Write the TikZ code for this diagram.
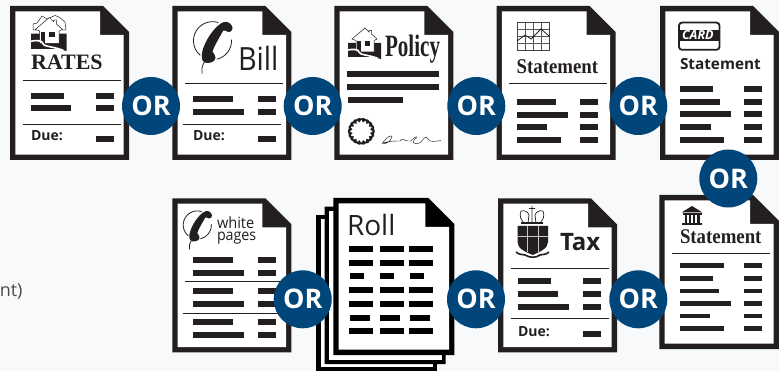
\documentclass[tikz,border=0pt]{standalone}
\usepackage{graphicx}
\usepackage{fontspec}
\setmainfont{Open Sans}
\newfontfamily\srf{Liberation Serif}
\definecolor{ink}{HTML}{231F20}
\definecolor{paper}{HTML}{F7F9FB}
\definecolor{orblue}{HTML}{00467A}
\tikzset{
  lbl/.style={inner sep=0pt,outer sep=0pt,anchor=base west,text=ink},
  orc/.style={circle,fill=orblue,minimum size=58pt,inner sep=0pt,text=white,font=\bfseries\fontsize{27}{27}\selectfont}
}
\newcommand\ortext{\raisebox{-1pt}{OR}}
\newcommand\docsheet[5][ink]{%
  \begin{scope}[shift={(#2,#3)}]
    \fill[#1] (0,0) -- (#4-26,0) -- (#4,26) -- (#4,#5) -- (0,#5) -- cycle;
    \fill[white] (5.3,5.3) -- (#4-29,5.3) -- (#4-29,29) -- (#4-5.3,29) -- (#4-5.3,#5-5.3) -- (5.3,#5-5.3) -- cycle;
  \end{scope}}
\newcommand\bk[4]{\fill[ink] (#1,#2) rectangle (#3,#4);}
\newcommand\kk[4]{\fill[black] (#1,#2) rectangle (#3,#4);}
\newcommand\rl[3]{\draw[ink,line width=0.8pt] (#1,#3) -- (#2,#3);}
\newcommand\phoneicon[3]{%
  \begin{scope}[shift={(#1,#2)},scale=#3]
    \draw[ink,line width=0.8pt] plot[domain=-230:-72,samples=40] ({19*cos(\x)},{19*sin(\x)});
    \draw[ink,line width=0.8pt] plot[domain=-3:77,samples=24] ({19*cos(\x)},{19*sin(\x)});
    \fill[ink] (8,-17) .. controls (12,-20) and (18,-20) .. (20,-13)
      .. controls (20.5,-10) and (17,-8) .. (15,-9) .. controls (11,-11) and (11,-11) .. (9,-7)
      .. controls (5,0) and (1,7) .. (0,11) .. controls (1,13) and (3,14) .. (3,17)
      .. controls (3,21) and (-3,23) .. (-7,22) .. controls (-12,21) and (-11,14) .. (-10,10)
      .. controls (-7,-1) and (1,-12) .. (8,-17) -- cycle;
    \draw[ink,line width=0.8pt] (-8,21) .. controls (-11,26) and (-11,29) .. (-10.5,33);
  \end{scope}}
\newcommand\houseicon[3]{%
  \begin{scope}[shift={(#1,#2)},scale=#3]
    \fill[ink] (0,15) -- (33,15) -- (33,31) -- (24,29) -- (0,29) -- cycle;
    \filldraw[fill=white,draw=ink,line width=0.5pt] (17,0) -- (4,11) -- (8,12.5) -- (8,24) -- (26,24) -- (26,12.5) -- (29,11) -- (23.5,6) -- (23.5,2.5) -- (21,2.5) -- (21,4) -- cycle;
    \fill[ink] (9,13) rectangle (13,24);
    \fill[ink] (17,13) rectangle (22,18);
    \draw[white,line width=1.6pt] (0,22) .. controls (4,21) and (11,21) .. (11,24) .. controls (11,27) and (22,27) .. (30,30.5);
  \end{scope}}
\begin{document}
\begin{tikzpicture}[x=1pt,y=-1pt]
\useasboundingbox (0,0) rectangle (779,371);
\fill[paper] (0,0) rectangle (779,371);
\node[lbl,anchor=base east,text=black!70,font=\fontsize{18}{18}\selectfont] (cut) at (22.5,297) {nt)};

% --- RATES
\docsheet{10}{6}{119}{154}
\draw[ink,line width=0.5pt,fill=white] (33,30) -- (33,24) -- (37,23) -- (42,16) -- (47,19) -- (55,15.5) -- (59,17) -- (65,22) -- (66,30) -- cycle;
\houseicon{31}{17.5}{1.08}
\node[lbl] (rates) at (31,70) {\srf\bfseries\fontsize{22}{22}\selectfont RATES};
\rl{23}{121}{80.3}
\bk{31}{93}{64}{99}\bk{31}{105}{71}{111}\bk{96}{93}{114}{99}\bk{96}{105}{114}{111}
\rl{23}{121}{124.3}
\node[lbl] (due1) at (31,141) {\bfseries\fontsize{14}{14}\selectfont Due:};
\bk{96}{136}{114}{142}

% --- Bill
\docsheet{172.3}{6}{119}{154}
\phoneicon{212.5}{40.7}{1}
\node[lbl] (bill) at (238,70.7) {\scalebox{0.9}[1]{\fontsize{32}{32}\selectfont Bill}};
\rl{185}{283}{83.3}
\bk{193}{96}{233}{102}\bk{193}{109}{244}{115}\bk{258}{96}{276}{102}\bk{258}{109}{276}{115}
\rl{183}{281}{124.3}
\node[lbl] (due2) at (193,141) {\bfseries\fontsize{14}{14}\selectfont Due:};
\bk{258}{136}{276}{142}

% --- Policy
\docsheet{334.3}{6}{119}{154}
\houseicon{348}{28}{1}
\node[lbl] (policy) at (385,57) {\scalebox{0.68}[1]{\srf\bfseries\fontsize{31}{31}\selectfont Policy}};
\bk{347}{71}{439}{77}\bk{347}{84}{439}{90}\bk{348}{97}{403}{103}
\fill[ink] plot[domain=0:360,samples=97,smooth cycle] ({361.3+(13.2+0.3*cos(18*\x))*cos(\x)},{131.3+(13.2+0.3*cos(18*\x))*sin(\x)});
\fill[white] plot[domain=0:360,samples=145,smooth cycle] ({361.3+(10+1.1*cos(16*\x))*cos(\x)},{131.3+(10+1.1*cos(16*\x))*sin(\x)});
\draw[ink,line width=0.45pt] (382,144) .. controls (386,137) and (392,134) .. (392,137) .. controls (391,142) and (384,145) .. (383,143) .. controls (390,141) and (395,141) .. (400,141) .. controls (403,137) and (404,141) .. (408,141) -- (411,141) .. controls (416,135) and (419,136) .. (414,140) .. controls (411,144) and (418,145) .. (421,142) .. controls (424,138) and (426,135) .. (428,139) .. controls (430,143) and (436,141) .. (441,140.5);

% --- Statement (chart)
\docsheet{496.5}{6}{119}{154}
\foreach \x in {525,533,541}{\draw[ink!75,line width=0.45pt] (\x,22) -- (\x,50.7);}
\foreach \y in {29.2,36.4,43.5}{\draw[ink!75,line width=0.45pt] (517,\y) -- (549,\y);}
\draw[ink!85,line width=0.5pt] (517,22) rectangle (549,50.7);
\draw[ink,line width=0.8pt] (517,41) -- (525,35) -- (531,39) -- (541,29) -- (549,36);
\node[lbl] (st1) at (516.7,74) {\scalebox{0.9}[1]{\srf\bfseries\fontsize{20.9}{21}\selectfont Statement}};
\rl{509}{606.7}{83.3}
\bk{516.7}{99}{556.3}{105}\bk{516.7}{112}{567.7}{118}\bk{516.7}{124.5}{547}{130}\bk{516.7}{137}{560.7}{143}
\bk{580.3}{99}{598.3}{105}\bk{580.3}{112}{598.3}{118}\bk{580.3}{124.5}{598.3}{130}\bk{580.3}{137}{598.3}{143}

% --- Statement (card)
\docsheet{660}{6}{119}{154}
\draw[ink,line width=1.8pt,rounded corners=3pt] (679,22.6) rectangle (719.5,49.8);
\fill[ink] (678,30) rectangle (720,40.7);
\node[lbl,text=white] (card) at (682,39.7) {\bfseries\itshape\fontsize{12.5}{13}\selectfont CARD};
\node[lbl] (st2) at (680,70) {\bfseries\fontsize{15.3}{15}\selectfont Statement};
\bk{680}{86}{713}{92}\bk{680}{99}{720}{105}\bk{680}{111}{731}{117}\bk{680}{124}{711}{130}\bk{680}{137}{724}{143}
\bk{744}{86}{762}{92}\bk{744}{99}{762}{105}\bk{744}{111}{762}{117}\bk{744}{124}{762}{130}\bk{744}{137}{762}{143}

% --- white pages
\docsheet{172.3}{198.3}{119}{154}
\phoneicon{197.3}{225}{0.74}
\node[lbl] (white) at (217,228.5) {\scalebox{0.94}[1]{\fontsize{15.5}{16}\selectfont white}};
\node[lbl] (pages) at (217,241) {\scalebox{0.92}[1]{\fontsize{15.5}{16}\selectfont pages}};
\bk{193}{257}{233}{263}\bk{193}{270}{244}{276}\bk{258}{257}{276}{263}\bk{258}{270}{276}{276}
\rl{185}{283}{281}
\bk{193}{288}{233}{294}\bk{193}{301}{244}{307}\bk{258}{288}{276}{294}\bk{258}{301}{276}{307}
\rl{183}{281}{313.3}
\bk{193}{319}{233}{325}\bk{193}{332}{244}{338}\bk{258}{319}{276}{325}\bk{258}{332}{276}{338}

% --- Roll
\fill[black] (316,215) rectangle (437,371);
\fill[white] (320.5,219.5) rectangle (432.5,366.5);
\docsheet[black]{324.7}{206.7}{121}{157.3}
\fill[white] (329,211) rectangle (441.5,359.5);
\docsheet[black]{333.3}{198}{121}{157}
\node[lbl] (roll) at (347,235.7) {\fontsize{28}{28}\selectfont Roll};
\foreach \y/\h in {246/252,260/266,287/293,301/307,328/334}{\kk{349}{\y}{373}{\h}\kk{380}{\y}{404}{\h}\kk{409}{\y}{433}{\h}}
\kk{350}{273.3}{364}{279}\kk{380}{273.3}{394}{279}\kk{410}{273.3}{424}{279}
\kk{350}{315}{370}{321}\kk{380}{315}{400}{321}\kk{410}{315}{430}{321}

% --- Tax
\docsheet{498}{198.3}{119}{154}
\begin{scope}[shift={(510,205)}]
  \draw[ink,line width=0.7pt] (11,6) .. controls (9,11) and (11,15) .. (14,18) (11,6) .. controls (15,5) and (18,7) .. (19,10) -- (18,18) (33,6) .. controls (35,11) and (33,15) .. (30,18) (33,6) .. controls (29,5) and (26,7) .. (25,10) -- (26,18) (22,1) -- (22,18) (19,3.5) -- (25,3.5);
  \fill[ink] (11,17.5) rectangle (33,19.5);
  \fill[ink] (7.5,21) -- (38,21) -- (38,37) .. controls (38,44) and (29,47) .. (22.7,50) .. controls (16,47) and (7.5,44) .. (7.5,37) -- cycle;
  \draw[white!75!ink,line width=0.6pt] (17,21) -- (17,47) (28,21) -- (28,47) (7.5,31) -- (38,31);
  \draw[ink,line width=1.6pt] (6,47) .. controls (9,50) and (12,49) .. (15,50) .. controls (20,53) and (26,53) .. (30,50) .. controls (33,49) and (36,50) .. (39,47);
\end{scope}
\node[lbl] (tax) at (560,251) {\bfseries\fontsize{24}{24}\selectfont Tax};
\rl{511}{609}{268.3}
\bk{518}{278}{551}{284}\bk{518}{291}{558}{297}\bk{518}{304}{569}{310}
\bk{583}{278}{601}{284}\bk{583}{291}{601}{297}\bk{583}{304}{601}{310}
\rl{511}{609}{318.3}
\node[lbl] (due3) at (518,336) {\bfseries\fontsize{14}{14}\selectfont Due:};
\bk{583}{331}{601}{337}

% --- Statement (bank)
\docsheet{659.3}{195}{119.7}{154}
\fill[ink] (692,206) -- (702.5,212.5) -- (681.5,212.5) -- cycle;
\fill[ink] (682.5,213.5) rectangle (701.5,215);
\foreach \x in {684.5,688.7,692.9,697.1}{\fill[ink] (\x,215) rectangle (\x+2.4,223);}
\fill[ink] (682,223) rectangle (702,225);
\node[lbl] (st3) at (680,243.3) {\scalebox{0.9}[1]{\srf\bfseries\fontsize{20.9}{21}\selectfont Statement}};
\rl{672}{770}{253.3}
\bk{680}{263.3}{724}{268}\bk{680}{276}{712.7}{280.7}\bk{680}{288.7}{719.3}{293.3}\bk{680}{301}{731}{306}\bk{680}{313.7}{710.3}{318.3}\bk{680}{326.3}{724}{331}
\foreach \y/\h in {263.3/268,276/280.7,288.7/293.3,301/306,313.7/318.3,326.3/331}{\bk{743.7}{\y}{761.7}{\h}}

% --- OR badges
\node[orc] (or1) at (151,106) {\ortext};
\node[orc] (or2) at (312.7,106) {\ortext};
\node[orc] (or3) at (476.3,106) {\ortext};
\node[orc] (or4) at (638.3,106) {\ortext};
\node[orc] (or5) at (728.3,178.5) {\ortext};
\node[orc] (or6) at (302.7,299.3) {\ortext};
\node[orc] (or7) at (476,299.3) {\ortext};
\node[orc] (or8) at (638.3,299.3) {\ortext};
\end{tikzpicture}
\end{document}
